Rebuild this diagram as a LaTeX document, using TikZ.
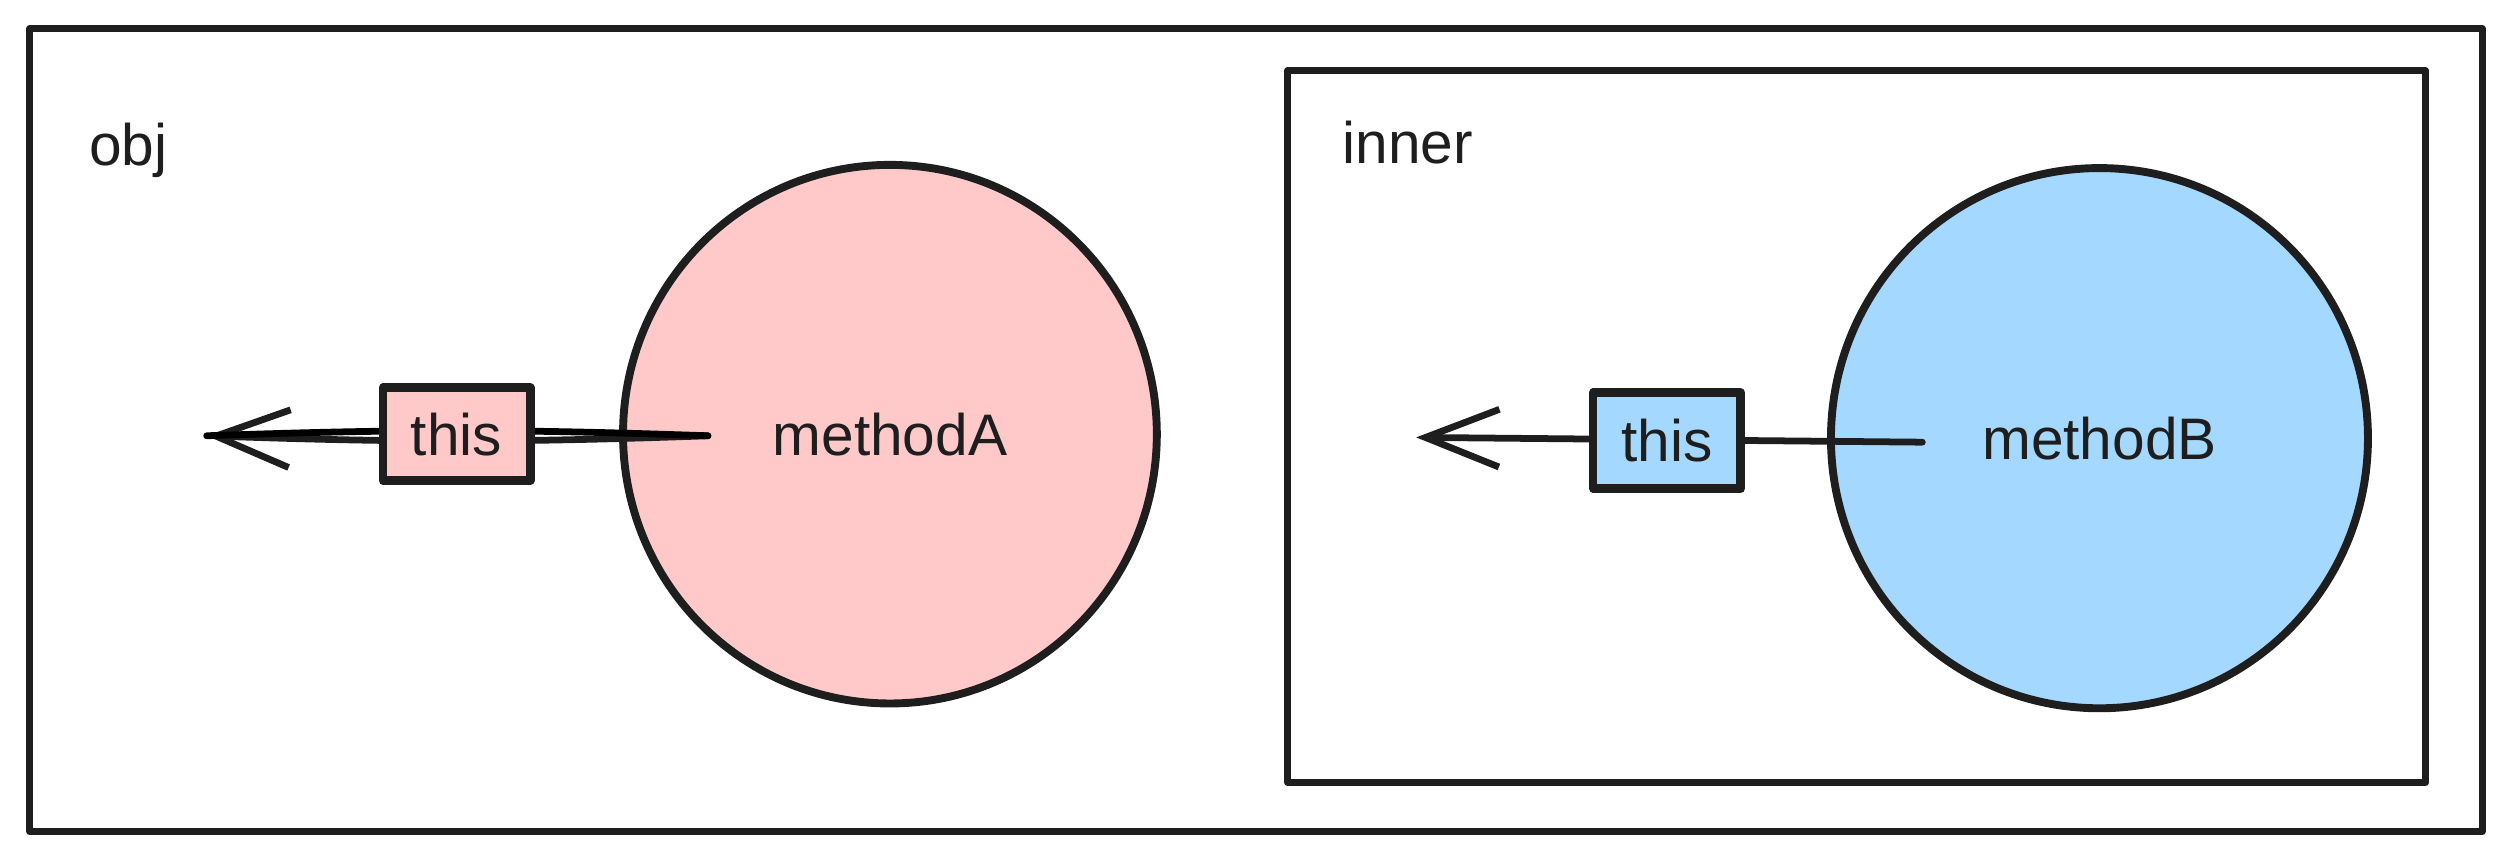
\documentclass[tikz,border=0pt]{standalone}
\usepackage{fontspec}
\setmainfont{Liberation Sans}
\usetikzlibrary{arrows.meta,shapes.geometric}

\definecolor{ink}{HTML}{1E1E1E}
\definecolor{pinkfill}{HTML}{FFC9C9}
\definecolor{bluefill}{HTML}{A5D8FF}

\begin{document}
\begin{tikzpicture}[x=0.01cm,y=-0.01cm,line width=1.2pt,line cap=round,line join=round,
  font=\fontsize{10.4}{12}\selectfont,text=ink,
  frame/.style={draw=ink,inner sep=0pt},
  blob/.style={ellipse,draw=ink,line width=1.4pt,inner sep=0pt},
  thisbox/.style={draw=ink,line width=1.5pt,inner sep=0pt,minimum width=0.92cm,minimum height=0.58cm},
  ptr/.style={draw=ink,-{Straight Barb[length=4.6mm,width=3.6mm]}}]

\useasboundingbox (0,0) rectangle (1568,538);

\node[frame,minimum width=15.30cm,minimum height=5.01cm] (obj) at (784,268.5) {};
\node[frame,minimum width=7.10cm,minimum height=4.44cm] (inner) at (1159,266.25) {};
\node[anchor=base west,inner sep=0pt] (objlabel) at (53.6,103.6) {obj};
\node[anchor=base west,inner sep=0pt] (innerlabel) at (836,102) {inner};

\node[blob,fill=pinkfill,minimum width=3.33cm,minimum height=3.36cm] (methodA) at (555.5,271) {methodA};
\node[blob,fill=bluefill,minimum width=3.35cm,minimum height=3.37cm] (methodB) at (1310.5,273.5) {methodB};

\coordinate (startA) at ([xshift=-1.135cm,yshift=-0.01cm]methodA.center);
\coordinate (tipA) at (129,272);
\coordinate (startB) at ([xshift=-1.105cm,yshift=-0.025cm]methodB.center);
\coordinate (tipB) at (884,273);

\draw[ptr] (startA) to[bend left=2] (tipA);
\draw (startA) to[bend right=2] (tipA);
\draw[ptr] (startB) -- (tipB);

\node[thisbox,fill=pinkfill] (thisA) at (285,271) {this};
\node[thisbox,fill=bluefill,minimum height=0.60cm] (thisB) at (1040.5,275) {this};

\end{tikzpicture}
\end{document}
